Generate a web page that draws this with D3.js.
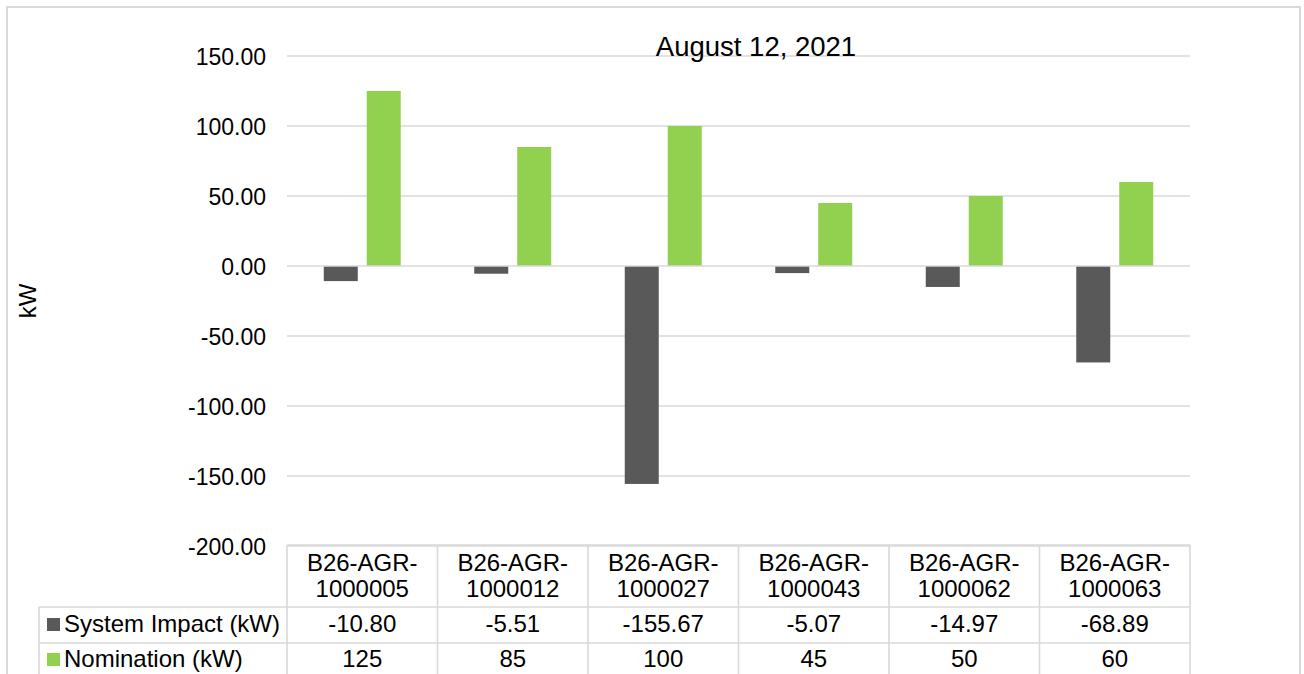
<!DOCTYPE html>
<html>
<head>
<meta charset="utf-8">
<script src="https://cdn.jsdelivr.net/npm/d3@7"></script>
<style>
html,body{margin:0;padding:0;background:#fff;}
svg{display:block;}
text{font-family:"Liberation Sans",Arial,sans-serif;fill:#000;}
</style>
</head>
<body>
<div id="chart"></div>
<script>
const categories = ["B26-AGR-1000005","B26-AGR-1000012","B26-AGR-1000027","B26-AGR-1000043","B26-AGR-1000062","B26-AGR-1000063"];
const categoryLine1 = ["B26-AGR-","B26-AGR-","B26-AGR-","B26-AGR-","B26-AGR-","B26-AGR-"];
const categoryLine2 = ["1000005","1000012","1000027","1000043","1000062","1000063"];
const systemImpact = [-10.80,-5.51,-155.67,-5.07,-14.97,-68.89];
const systemImpactLabels = ["-10.80","-5.51","-155.67","-5.07","-14.97","-68.89"];
const nomination = [125,85,100,45,50,60];
const nominationLabels = ["125","85","100","45","50","60"];
const seriesNames = ["System Impact (kW)","Nomination (kW)"];
const seriesColors = ["#595959","#92D050"];
const yTicks = [150,100,50,0,-50,-100,-150,-200];
const title = "August 12, 2021";
const yAxisTitle = "kW";

const W = 1304, H = 674;
const plotL = 287, plotR = 1190, plotT = 56, plotB = 546;
const gridColor = "#D9D9D9";

const svg = d3.select("#chart").append("svg").attr("width", W).attr("height", H);

// outer border
svg.append("rect").attr("x",7).attr("y",7).attr("width",1293).attr("height",700)
  .attr("fill","#fff").attr("stroke",gridColor).attr("stroke-width",2);

const x = d3.scaleBand().domain(categories).range([plotL, plotR]).paddingInner(0).paddingOuter(0);
const xs = d3.scaleBand().domain([0,1]).range([0, x.bandwidth()]).paddingInner(0.209).paddingOuter(0.855);
const y = d3.scaleLinear().domain([-200,150]).range([plotB, plotT]);

// gridlines
svg.append("g").selectAll("line").data(yTicks.filter(d=>d!==0)).join("line")
  .attr("x1",plotL).attr("x2",plotR)
  .attr("y1",d=>y(d)).attr("y2",d=>y(d))
  .attr("stroke",gridColor).attr("stroke-width",1.6);

// tick labels via axis
const yAxis = d3.axisLeft(y).tickValues(yTicks).tickFormat(d => d.toFixed(2)).tickSize(0).tickPadding(0);
const ag = svg.append("g").attr("transform","translate(266,0)").call(yAxis);
ag.select(".domain").remove();
ag.selectAll("text").attr("font-size",23).attr("font-family","'Liberation Sans',Arial,sans-serif").attr("fill","#000").attr("dy","0.35em");

// bars
const series = [systemImpact, nomination];
series.forEach((vals, si) => {
  svg.append("g").selectAll("rect").data(vals).join("rect")
    .attr("x",(d,i)=>x(categories[i]) + xs(si))
    .attr("width",xs.bandwidth())
    .attr("y",d=>y(Math.max(0,d)))
    .attr("height",d=>Math.abs(y(d)-y(0)))
    .attr("fill",seriesColors[si]);
});

// zero line
svg.append("line").attr("x1",plotL).attr("x2",plotR).attr("y1",y(0)).attr("y2",y(0))
  .attr("stroke",gridColor).attr("stroke-width",1.6);

// title
svg.append("text").attr("x",756).attr("y",56).attr("text-anchor","middle").attr("font-size",27.5).text(title);

// y axis title
svg.append("text").attr("transform",`translate(36,${(plotT+plotB)/2}) rotate(-90)`)
  .attr("text-anchor","middle").attr("font-size",24).text(yAxisTitle);

// data table
const tTop = 545, r1 = 607, r2 = 643, r3 = 690, legL = 39;
const fs = 24;
const tg = svg.append("g");
const lineAttr = s => s.attr("stroke",gridColor).attr("stroke-width",1.6);
lineAttr(tg.append("line").attr("x1",plotL).attr("x2",plotR).attr("y1",tTop).attr("y2",tTop));
[r1,r2].forEach(yy => lineAttr(tg.append("line").attr("x1",legL).attr("x2",plotR).attr("y1",yy).attr("y2",yy)));
const colEdges = categories.map(c=>x(c)).concat([plotR]);
colEdges.forEach(xx => lineAttr(tg.append("line").attr("x1",xx).attr("x2",xx).attr("y1",tTop).attr("y2",r3)));
lineAttr(tg.append("line").attr("x1",legL).attr("x2",legL).attr("y1",r1).attr("y2",r3));

tg.append("g").selectAll("text").data(categories).join("text")
  .attr("x",d=>x(d)+x.bandwidth()/2).attr("y",571).attr("text-anchor","middle").attr("font-size",fs)
  .text((d,i)=>categoryLine1[i]);
tg.append("g").selectAll("text").data(categories).join("text")
  .attr("x",d=>x(d)+x.bandwidth()/2).attr("y",597).attr("text-anchor","middle").attr("font-size",fs)
  .text((d,i)=>categoryLine2[i]);
const rowLabels = [systemImpactLabels, nominationLabels];
const rowBase = [632, 667];
rowLabels.forEach((labs, ri) => {
  tg.append("g").selectAll("text").data(labs).join("text")
    .attr("x",(d,i)=>x(categories[i])+x.bandwidth()/2).attr("y",rowBase[ri])
    .attr("text-anchor","middle").attr("font-size",fs).text(d=>d);
  tg.append("rect").attr("x",47).attr("y",rowBase[ri]-14).attr("width",13).attr("height",13).attr("fill",seriesColors[ri]);
  tg.append("text").attr("x",64).attr("y",rowBase[ri]).attr("font-size",fs).text(seriesNames[ri]);
});
</script>
</body>
</html>
